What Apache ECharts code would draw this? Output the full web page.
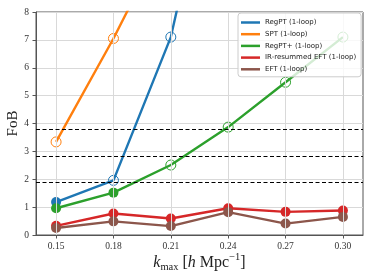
<!DOCTYPE html>
<html><head><meta charset="utf-8">
<script src="https://cdn.jsdelivr.net/npm/echarts@6/dist/echarts.min.js"></script>
<style>html,body{margin:0;padding:0;background:#fff}#c{width:374px;height:280px}</style>
</head><body><div id="c"></div>
<script>
// ---- data ----
const kmax = [0.15, 0.18, 0.21, 0.24, 0.27, 0.30];
const regpt = [1.18, 1.96, 7.10, 16.2, null, null];
const spt = [3.34, 7.05, 11.1, null, null, null];
const regptPlus = [0.96, 1.52, 2.51, 3.87, 5.48, 7.10];
const irEft = [0.33, 0.77, 0.59, 0.96, 0.83, 0.88];
const eft = [0.25, 0.49, 0.32, 0.82, 0.41, 0.65];
const seriesNames = ['RegPT (1-loop)', 'SPT (1-loop)', 'RegPT+ (1-loop)', 'IR-resummed EFT (1-loop)', 'EFT (1-loop)'];
const thresholds = [1.88, 2.83, 3.78];
const xTicks = [0.15, 0.18, 0.21, 0.24, 0.27, 0.30];
const yMin = 0, yMax = 8, yStep = 1;

const colors = ['#1f77b4', '#ff7f0e', '#2ca02c', '#d62728', '#8c564b'];
const allVals = [regpt, spt, regptPlus, irEft, eft];
const serif = "'Liberation Serif', 'DejaVu Serif', serif";

function mkSeries(name, vals, color) {
  const data = [];
  vals.forEach((v, i) => {
    if (v == null) return;
    const filled = v < thresholds[0];
    data.push({
      value: [kmax[i], v],
      itemStyle: filled ? { color: color, borderWidth: 0 }
                        : { color: 'rgba(255,255,255,0)', borderColor: color, borderWidth: 1 }
    });
  });
  return {
    name: name, type: 'line', data: data, symbol: 'circle', symbolSize: 10,
    lineStyle: { color: color, width: 2.4 },
    itemStyle: { color: color },
    clip: true, z: 3, emphasis: { disabled: true }, animation: false
  };
}

const series = allVals.map((v, i) => mkSeries(seriesNames[i], v, colors[i]));
// vertical grid lines + dashed threshold lines
series.unshift({
  type: 'line', data: [], silent: true, z: 1, animation: false,
  markLine: {
    symbol: 'none', silent: true, label: { show: false }, animation: false,
    lineStyle: { color: '#d9d9d9', width: 1, type: 'solid' },
    data: xTicks.map(x => ({ xAxis: x }))
  }
});
series.push({
  type: 'line', data: [], silent: true, z: 2, animation: false,
  markLine: {
    symbol: 'none', silent: true, label: { show: false }, animation: false,
    lineStyle: { color: '#000', width: 1.2, type: [4, 2.5] },
    data: thresholds.map(y => ({ yAxis: y }))
  }
});

const chart = echarts.init(document.getElementById('c'), null, { renderer: 'canvas' });
chart.setOption({
  animation: false,
  backgroundColor: '#fff',
  grid: { left: 36, right: 11, top: 12, bottom: 45, containLabel: false, outerBoundsMode: 'none',
    show: true, borderColor: '#555', borderWidth: 1, backgroundColor: 'transparent' },
  legend: {
    data: seriesNames, orient: 'vertical', left: 238, top: 13,
    padding: [5, 5, 3, 3], itemGap: 2.7, itemWidth: 19, itemHeight: 2.5, icon: 'rect',
    backgroundColor: 'rgba(255,255,255,0.8)', borderColor: '#ccc', borderWidth: 1, borderRadius: 3,
    textStyle: { fontFamily: 'DejaVu Sans', fontSize: 7, color: '#222', lineHeight: 9 },
    selectedMode: false, z: 10
  },
  xAxis: {
    type: 'value', min: 0.1395, max: 0.3105,
    axisLine: { show: true, lineStyle: { color: '#555', width: 1 } },
    axisTick: { show: true, customValues: xTicks, length: 3.5, lineStyle: { color: '#555' } },
    axisLabel: { customValues: xTicks, margin: 6, fontFamily: serif, fontSize: 9.5, color: '#333',
      formatter: v => v.toFixed(2) },
    splitLine: { show: false },
    name: '{k|k}{sub|max}{t| [}{h|h}{t| Mpc}{sup|−1}{t|]}',
    nameLocation: 'middle', nameGap: 17, nameMoveOverlap: false,
    nameTextStyle: {
      fontFamily: serif, fontSize: 16, color: '#222',
      rich: {
        k: { fontFamily: serif, fontStyle: 'italic', fontSize: 16, color: '#222' },
        sub: { fontFamily: serif, fontSize: 10.5, color: '#222', padding: [9, 0, 0, 0] },
        t: { fontFamily: serif, fontSize: 16, color: '#222' },
        h: { fontFamily: serif, fontStyle: 'italic', fontSize: 16, color: '#222' },
        sup: { fontFamily: serif, fontSize: 10.5, color: '#222', padding: [0, 0, 10, 0] }
      }
    }
  },
  yAxis: {
    type: 'value', min: yMin, max: yMax, interval: yStep,
    axisLine: { show: true, lineStyle: { color: '#555', width: 1 } },
    axisTick: { show: true, length: 3.5, lineStyle: { color: '#555' } },
    axisLabel: { margin: 7, fontFamily: serif, fontSize: 9.5, color: '#333' },
    splitLine: { show: true, lineStyle: { color: '#d9d9d9', width: 1 } },
    name: 'FoB', nameLocation: 'middle', nameGap: 15, nameMoveOverlap: false,
    nameTextStyle: { fontFamily: serif, fontSize: 15, color: '#222' }
  },
  series: series
});
</script></body></html>
